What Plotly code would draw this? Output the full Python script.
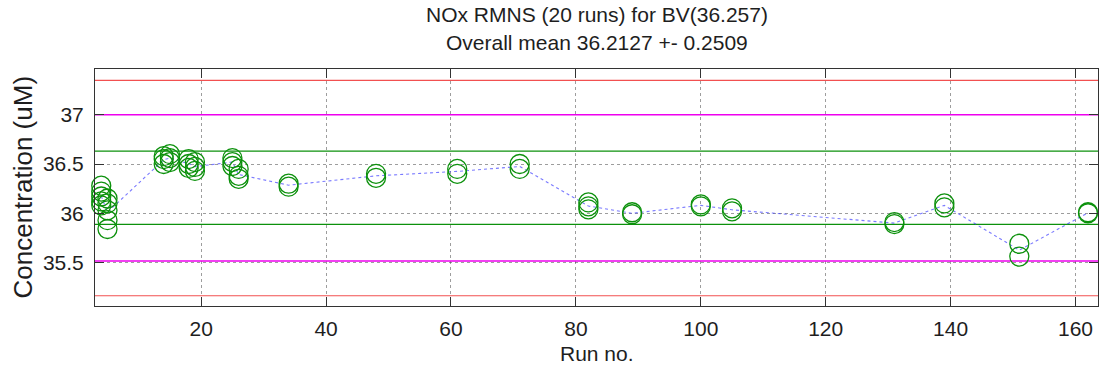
import numpy as np
import plotly.graph_objects as go

# Run numbers and replicate concentrations (uM) measured in each run
runs = [4, 5, 14, 15, 18, 19, 25, 26, 34, 48, 61, 71, 82, 89, 100, 105, 131, 139, 151, 162]
replicates = [
    [36.28, 36.22, 36.17, 36.12, 36.08],
    [36.15, 36.10, 36.03, 35.93, 35.84],
    [36.55, 36.50, 36.58],
    [36.60, 36.56, 36.52],
    [36.55, 36.50, 36.46],
    [36.52, 36.47, 36.43],
    [36.56, 36.52, 36.48],
    [36.45, 36.38, 36.35],
    [36.30, 36.27],
    [36.40, 36.36],
    [36.45, 36.40],
    [36.50, 36.45],
    [36.11, 36.07, 36.04],
    [36.01, 35.99],
    [36.09, 36.07],
    [36.05, 36.02],
    [35.91, 35.89],
    [36.10, 36.06],
    [35.69, 35.56],
    [36.01, 36.00],
]

# Control limits around the bottle value
bv = 36.257
warn_inner = [36.630, 35.888]
warn_outer = [37.0, 35.515]
action = [37.35, 35.162]

x_ticks = [20, 40, 60, 80, 100, 120, 140, 160]
y_ticks = [35.5, 36, 36.5, 37]
y_tick_text = ["35.5", "36", "36.5", "37"]

x_range = [3.0, 163.6]
y_range = [35.058, 37.465]

title_lines = ["NOx RMNS (20 runs) for BV(36.257)", "Overall mean 36.2127 +- 0.2509"]
x_title = "Run no."
y_title = "Concentration (uM)"

FONT = "Liberation Sans, Arial, sans-serif"
TXT = "#1e1e1e"
GREEN = "#0c910c"

# Plot-area geometry in pixels
W, H = 1103, 371
ML, MR, MT, MB = 95, 5, 69, 65
PW, PH = W - ML - MR, H - MT - MB


def px_to_paper_y(py):
    return (H - MB - py) / PH


def px_to_paper_x(px):
    return (px - ML) / PW


pts_x = [r for r, vals in zip(runs, replicates) for _ in vals]
pts_y = [v for vals in replicates for v in vals]
run_means = [float(np.mean(v)) for v in replicates]

fig = go.Figure()


# Horizontal limit lines spanning the full x range
def hline(y, color, width):
    fig.add_trace(go.Scatter(
        x=x_range, y=[y, y], mode="lines",
        line=dict(color=color, width=width),
        hoverinfo="skip", showlegend=False,
    ))


for y in action:
    hline(y, "rgb(242,80,80)", 1.2)
for y in warn_outer:
    hline(y, "#ee00ee", 1.5)
for y in warn_inner:
    hline(y, GREEN, 1.2)

# Run means joined by a dotted line
fig.add_trace(go.Scatter(
    x=runs, y=run_means, mode="lines",
    line=dict(color="rgba(50,50,255,0.65)", width=1.1, dash="dot"),
    showlegend=False,
))

# Individual replicate measurements
fig.add_trace(go.Scatter(
    x=pts_x, y=pts_y, mode="markers",
    marker=dict(symbol="circle-open", size=19, color=GREEN, line=dict(width=1.3, color=GREEN)),
    cliponaxis=False, showlegend=False,
))

axis_common = dict(
    showline=True, linecolor="#333", linewidth=1, mirror="allticks",
    ticks="inside", ticklen=9, tickcolor="#333",
    showgrid=True, gridcolor="rgba(60,60,60,0.5)", griddash="dot", gridwidth=1,
    zeroline=False, tickfont=dict(family=FONT, size=21, color=TXT),
)

fig.update_xaxes(range=x_range, tickvals=x_ticks, ticklabelstandoff=4, **axis_common)
fig.update_yaxes(range=y_range, tickvals=y_ticks, ticktext=y_tick_text,
                 ticklabelstandoff=6, **axis_common)

annotations = [
    dict(text=title_lines[0], x=0.5, y=px_to_paper_y(15), font=dict(size=21)),
    dict(text=title_lines[1], x=0.5, y=px_to_paper_y(42), font=dict(size=21)),
    dict(text=x_title, x=0.5, y=px_to_paper_y(353), font=dict(size=21)),
    dict(text=y_title, x=px_to_paper_x(22), y=0.5, textangle=-90, font=dict(size=26)),
]
for a in annotations:
    a.update(xref="paper", yref="paper", xanchor="center", yanchor="middle", showarrow=False)
    a["font"].update(family=FONT, color=TXT)

fig.update_layout(
    width=W, height=H,
    margin=dict(l=ML, r=MR, t=MT, b=MB),
    paper_bgcolor="white", plot_bgcolor="white",
    annotations=annotations,
)

fig.write_html("out.html")
